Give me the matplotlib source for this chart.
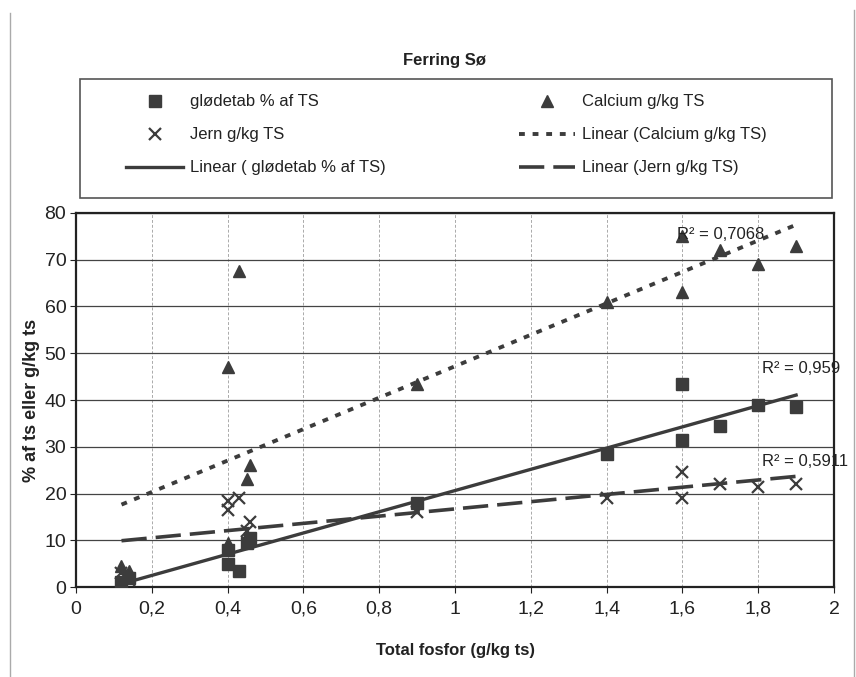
import matplotlib
matplotlib.use("Agg")
import matplotlib.pyplot as plt
from matplotlib.lines import Line2D
from matplotlib.patches import Rectangle
from matplotlib.ticker import FuncFormatter, MultipleLocator
import numpy as np

plt.rcParams['font.family'] = ['Liberation Sans', 'DejaVu Sans']

# aflæste værdier
fosfor = [0.12, 0.14, 0.40, 0.40, 0.43, 0.45, 0.46, 0.90, 1.40, 1.60, 1.60, 1.70, 1.80, 1.90]
glodetab = [1.0, 2.0, 5.0, 8.0, 3.5, 9.5, 10.5, 18.0, 28.5, 43.5, 31.5, 34.5, 39.0, 38.5]
calcium = [4.5, 3.5, 47.0, 9.5, 67.5, 23.0, 26.0, 43.5, 61.0, 75.0, 63.0, 72.0, 69.0, 73.0]
jern = [3.0, 1.5, 18.5, 16.5, 19.0, 12.0, 14.0, 16.0, 19.0, 24.5, 19.0, 22.0, 21.5, 22.0]

r2_labels = ["R² = 0,7068", "R² = 0,959", "R² = 0,5911"]
r2_pos = [(1.585, 75.5), (1.81, 46.8), (1.81, 26.8)]

title = "Ferring Sø"
xlabel = "Total fosfor (g/kg ts)"
ylabel = "% af ts eller g/kg ts"

dark = '#3c3c3c'

fig = plt.figure(figsize=(8.56, 6.77), dpi=100)
ax = fig.add_axes([0.0888, 0.1329, 0.8855, 0.5525])

x = np.array(fosfor)


def trend(y):
    k, m = np.polyfit(x, np.array(y), 1)
    xs = np.array([x.min(), x.max()])
    return xs, k * xs + m


h_g, = ax.plot(fosfor, glodetab, 's', color=dark, ms=8, ls='none', zorder=4)
h_ca, = ax.plot(fosfor, calcium, '^', color=dark, ms=9, ls='none', zorder=4)
h_fe, = ax.plot(fosfor, jern, 'x', color=dark, ms=8, mew=1.6, ls='none', zorder=4)

xs, ys = trend(calcium)
l_ca, = ax.plot(xs, ys, color=dark, lw=2.8, ls=(0, (1.5, 2.0)), zorder=3)
xs, ys = trend(glodetab)
l_g, = ax.plot(xs, ys, color=dark, lw=2.4, ls='-', zorder=3)
xs, ys = trend(jern)
l_fe, = ax.plot(xs, ys, color=dark, lw=2.6, ls=(0, (7, 2.5)), zorder=3)

for txt, (tx, ty) in zip(r2_labels, r2_pos):
    ax.text(tx, ty, txt, fontsize=12, va='center', ha='left', color='#222222', zorder=5)

ax.set_xlim(0, 2)
ax.set_ylim(0, 80)
ax.xaxis.set_major_locator(MultipleLocator(0.2))
ax.yaxis.set_major_locator(MultipleLocator(10))
ax.xaxis.set_major_formatter(FuncFormatter(lambda v, p: f"{v:g}".replace('.', ',')))

ax.yaxis.grid(True, color='#444444', lw=0.9)
ax.xaxis.grid(True, color='#aaaaaa', lw=0.7, ls=(0, (3, 2)))
ax.set_axisbelow(True)
for s in ax.spines.values():
    s.set_color('#222222')
    s.set_linewidth(1.6)

ax.tick_params(axis='both', labelsize=14, colors='#222222', direction='out', length=4)
ax.tick_params(axis='x', pad=6)
ax.tick_params(axis='y', pad=3)

ax.set_xlabel(xlabel, fontsize=12, fontweight='bold', color='#222222')
ax.xaxis.set_label_coords(0.5, -0.15)
ax.set_ylabel(ylabel, fontsize=13, fontweight='bold', color='#222222')
ax.yaxis.set_label_coords(-0.047, 0.5)

fig.text(445 / 856, 1 - 60 / 677, title, fontsize=12, fontweight='bold', ha='center', va='center', color='#222222')

# legend ramme
fig.add_artist(Rectangle((80 / 856, 1 - 198 / 677), 752 / 856, 119 / 677, transform=fig.transFigure,
                         fill=False, ec='#555555', lw=1.2))
handles = [h_g, h_fe, l_g, h_ca, l_ca, l_fe]
labels = ["glødetab % af TS", "Jern g/kg TS", "Linear ( glødetab % af TS)",
          "Calcium g/kg TS", "Linear (Calcium g/kg TS)", "Linear (Jern g/kg TS)"]
fig.legend(handles, labels, ncol=2, loc='upper left', bbox_to_anchor=(118 / 856, 1 - 86 / 677),
           frameon=False, fontsize=12, handlelength=3.4, handletextpad=0.4, columnspacing=8.0,
           labelspacing=1.08, borderpad=0, labelcolor='#222222')

# kant fra scanningen
fig.add_artist(Line2D([10 / 856, 10 / 856], [0, 1 - 13 / 677], transform=fig.transFigure, color='#aaaaaa', lw=1))
fig.add_artist(Line2D([854 / 856, 854 / 856], [0, 1 - 10 / 677], transform=fig.transFigure, color='#aaaaaa', lw=1))

fig.savefig("out.png", dpi=100, facecolor='white')
